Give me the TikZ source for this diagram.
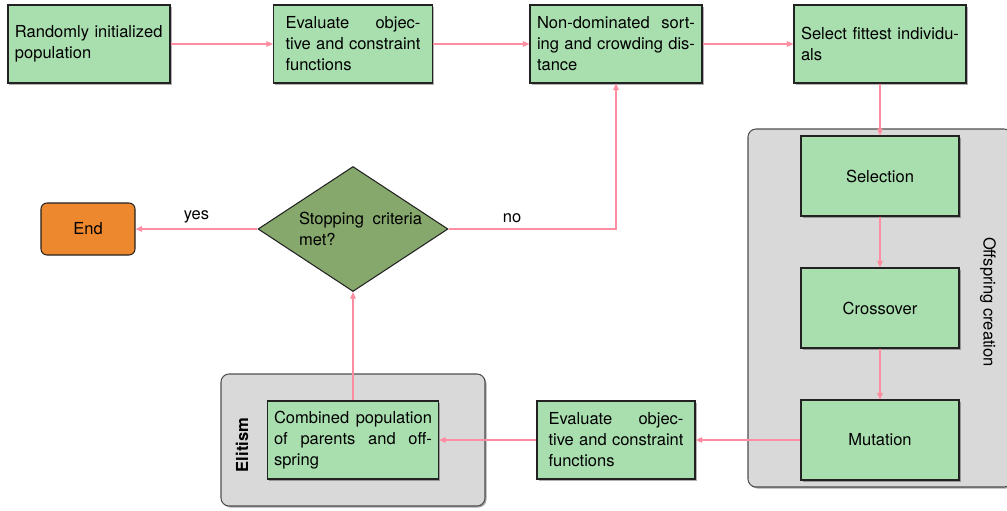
\documentclass[tikz,border=0pt]{standalone}
\usepackage{fontspec}
\setmainfont{TeX Gyre Heros}
\usepackage{tikz}
\usetikzlibrary{arrows.meta,shadows,shapes.geometric}
\definecolor{ink}{HTML}{222222}
\definecolor{leaf}{HTML}{A9DFAF}
\definecolor{moss}{HTML}{86A86C}
\definecolor{ember}{HTML}{EE882E}
\definecolor{shade}{HTML}{D9D9D9}
\definecolor{wire}{HTML}{FF8DA1}
\tikzset{
  flow/.style={-{Triangle[length=1.3mm,width=1.1mm]},line width=.6pt,draw=wire},
  stage/.style={draw=ink,line width=.6pt,fill=leaf,inner sep=0pt,minimum height=15.6mm,
    drop shadow={shadow xshift=.3mm,shadow yshift=-.3mm,fill=black,opacity=.3}},
  textstage/.style={stage,align=justify},
  opstage/.style={stage,minimum width=31.6mm,minimum height=16mm,align=center},
  decide/.style={diamond,draw=ink,line width=.6pt,fill=moss,inner sep=0pt,aspect=1.52,
    minimum width=38mm,minimum height=25mm,align=justify,text width=27.6mm},
  finish/.style={draw=ink,line width=.6pt,fill=ember,rounded corners=1.2mm,minimum width=18.8mm,minimum height=10.4mm},
  group/.style={draw=ink!80,line width=.6pt,fill=shade,rounded corners=1.6mm,minimum width=52.8mm,
    drop shadow={shadow xshift=.3mm,shadow yshift=-.3mm,fill=black,opacity=.35}},
  tag/.style={inner sep=0pt}
}

\begin{document}
\begin{tikzpicture}[x=0.2mm,y=-0.2mm,font=\fontsize{9.4}{12}\selectfont]
\useasboundingbox (0,0) rectangle (1007,510);

% grey groups first, so they stay behind
\node[group,minimum height=71.6mm] (offspring) at (880,308) {};
\node[group,minimum height=26.4mm] (elitism) at (353,440) {};
\node[tag,rotate=-90] (offspringtag) at (988,302) {Offspring creation};
\node[tag,rotate=90,font=\fontsize{9.4}{12}\selectfont\bfseries] (elitismtag) at (242,445) {Elitism};

% top row
\node[stage,minimum width=32.4mm,text width=29.6mm,align=left] (init) at (89,44) {Randomly initialized\\population};
\node[textstage,minimum width=31.8mm,text width=27mm] (eval) at (353,44) {Evaluate objec-\linebreak tive and constraint\linebreak functions};
\node[textstage,minimum width=34.4mm,text width=31.6mm] (sort) at (616,44) {Non-dominated sort-\linebreak ing and crowding dis-\linebreak tance};
\node[textstage,minimum width=34.4mm,text width=31.6mm] (fittest) at (880,44) {Select fittest individu-\linebreak als};

% offspring creation
\node[opstage] (selection) at (880,176) {Selection};
\node[opstage] (crossover) at (880,308) {Crossover};
\node[opstage] (mutation) at (880,440) {Mutation};

% bottom row
\node[textstage,minimum width=31.6mm,text width=27mm] (reeval) at (616,440) {Evaluate objec-\linebreak tive and constraint\linebreak functions};
\node[textstage,minimum width=34.2mm,text width=31.6mm] (combined) at (353,440) {Combined population\linebreak of parents and off-\linebreak spring};

% decision
\node[decide] (stop) at (353,229) {\hspace*{3mm}Stopping criteria\linebreak\hspace*{3mm}met?};
\node[finish] (end) at (88,229) {End};

\draw[flow] (init) -- (eval);
\draw[flow] (eval) -- (sort);
\draw[flow] (sort) -- (fittest);
\draw[flow] (fittest) -- (selection);
\draw[flow] (selection) -- (crossover);
\draw[flow] (crossover) -- (mutation);
\draw[flow] (mutation) -- (reeval);
\draw[flow] (reeval) -- (combined);
\draw[flow] (combined) -- (stop);
\draw[flow] (stop) -- node[above]{yes} (end);
\draw[flow] (stop) -| node[above,pos=.19]{no} (sort);
\end{tikzpicture}
\end{document}
